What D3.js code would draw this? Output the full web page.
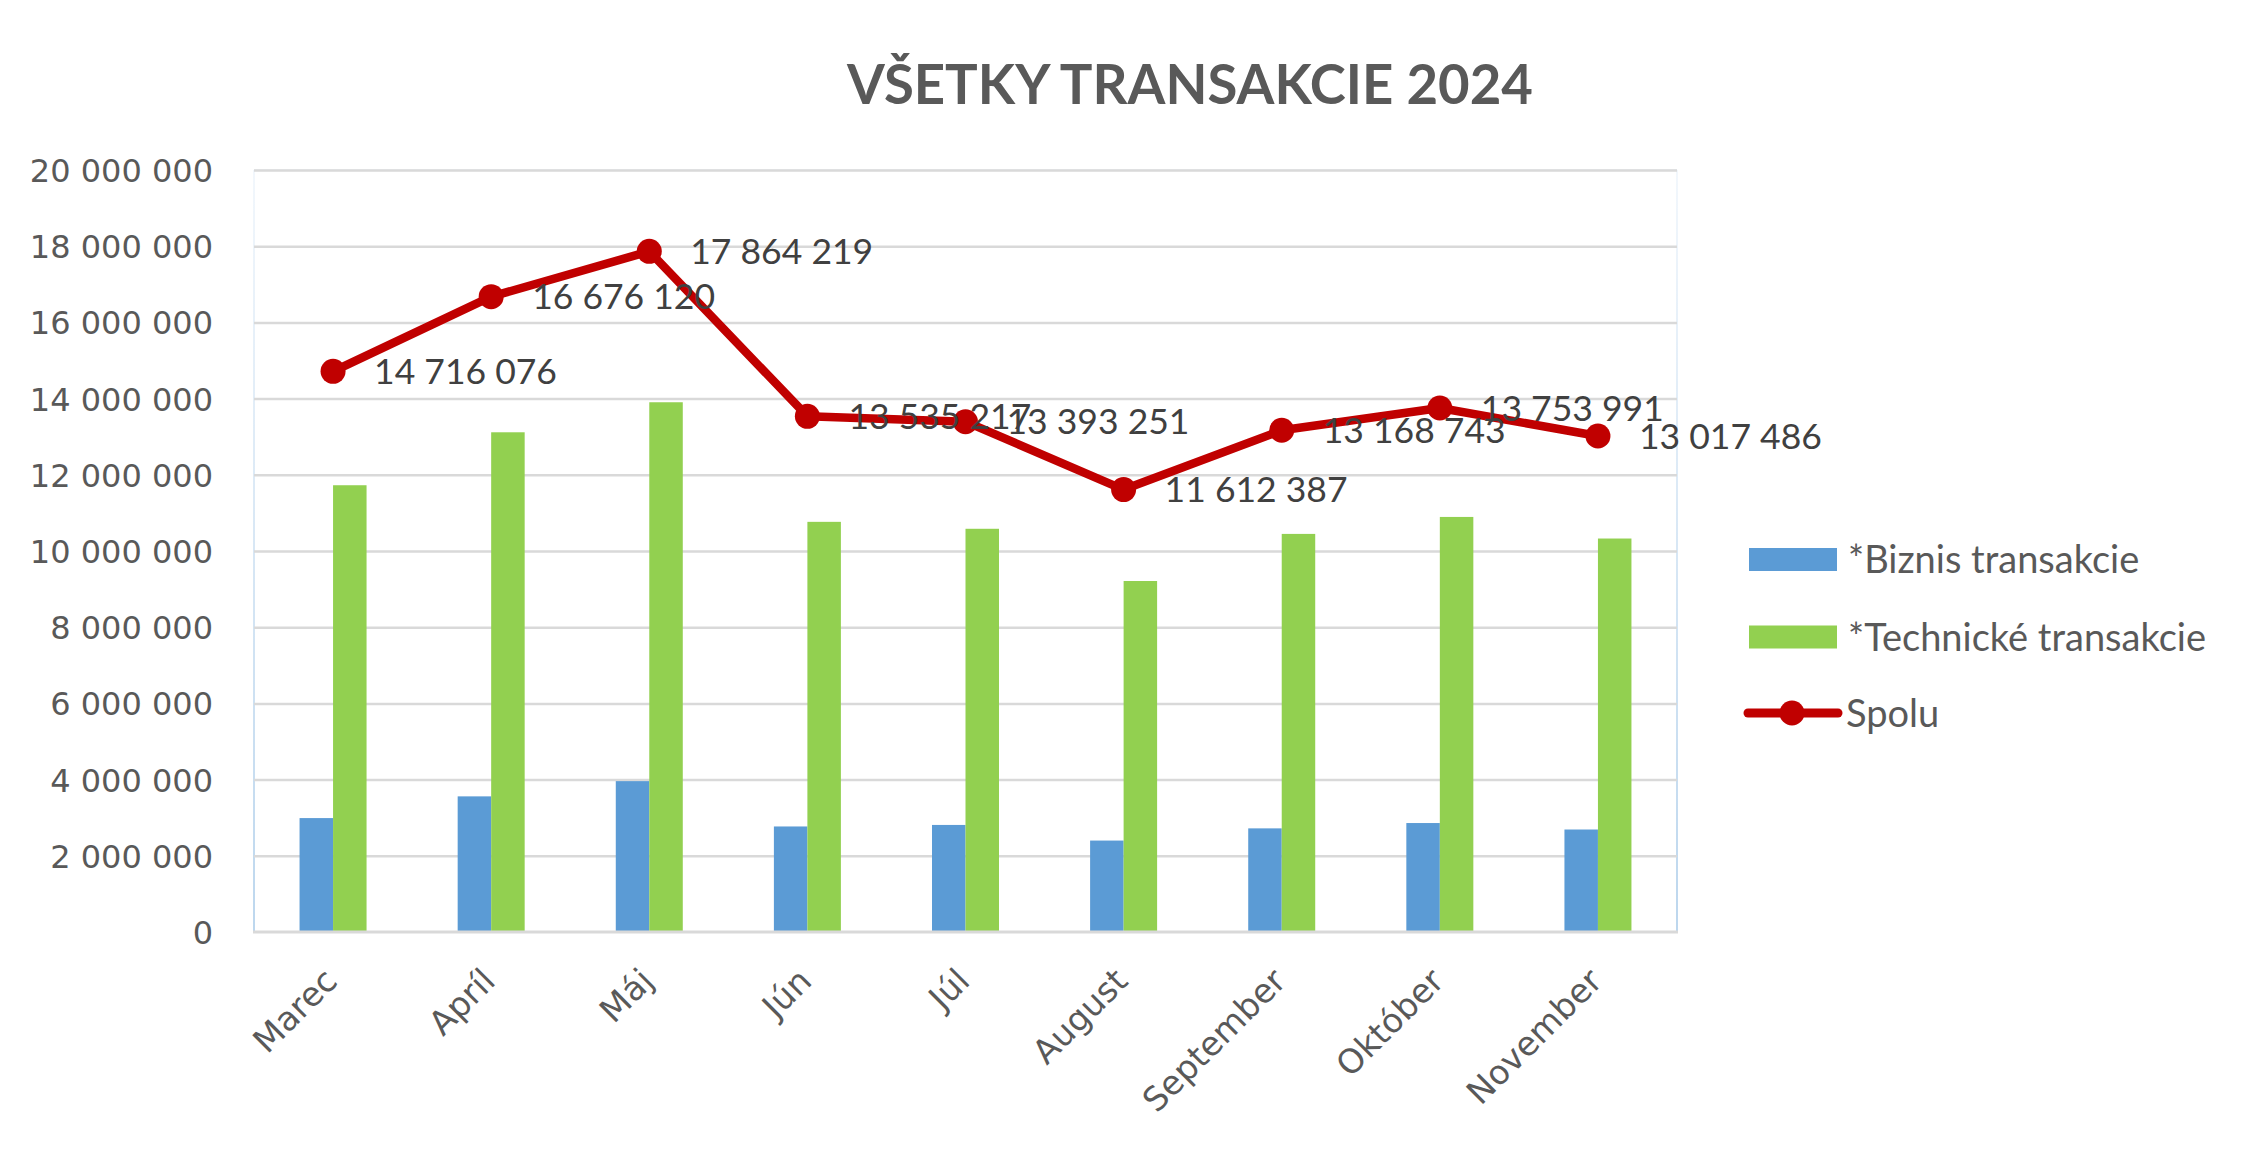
<!DOCTYPE html>
<html>
<head>
<meta charset="utf-8">
<script src="https://cdn.jsdelivr.net/npm/d3@7"></script>
<style>
  html, body { margin: 0; padding: 0; background: #fff; }
  svg { display: block; }
</style>
</head>
<body>
<svg id="chart" width="2261" height="1155"></svg>
<script>
// ---- data ----
const categories = ["Marec", "Apríl", "Máj", "Jún", "Júl", "August", "September", "Október", "November"];
const biznis     = [2990000, 3560000, 3960000, 2770000, 2810000, 2400000, 2720000, 2860000, 2690000];
const technicke  = [11726076, 13116120, 13904219, 10765217, 10583251, 9212387, 10448743, 10893991, 10327486];
const spolu      = [14716076, 16676120, 17864219, 13535217, 13393251, 11612387, 13168743, 13753991, 13017486];
const yTicks     = [0, 2000000, 4000000, 6000000, 8000000, 10000000, 12000000, 14000000, 16000000, 18000000, 20000000];
const seriesNames = ["*Biznis transakcie", "*Technické transakcie", "Spolu"];
const titleText = "VŠETKY TRANSAKCIE 2024";

// ---- layout ----
const W = 2261, H = 1155;
const plot = { left: 254, right: 1677, top: 170, bottom: 932 };
const colors = { biz: "#5B9BD5", tech: "#92D050", line: "#C00000" };

const svg = d3.select("#chart");
const fmt = d3.formatLocale({ decimal: ",", thousands: " ", grouping: [3], currency: ["", ""] }).format(",d");

const x = d3.scaleBand().domain(categories).range([plot.left, plot.right]).paddingInner(0).paddingOuter(0);
const barW = 33.5;
const y = d3.scaleLinear().domain([0, 20000000]).range([plot.bottom, plot.top]);

// gradient for plot side borders
const defs = svg.append("defs");
const grad = defs.append("linearGradient").attr("id", "sideGrad").attr("x1", 0).attr("y1", 0).attr("x2", 0).attr("y2", 1);
grad.append("stop").attr("offset", "0%").attr("stop-color", "#F2F7FC");
grad.append("stop").attr("offset", "100%").attr("stop-color", "#BDD7EE");

// plot area border
svg.append("line").attr("x1", plot.left).attr("x2", plot.right).attr("y1", plot.top).attr("y2", plot.top)
  .attr("stroke", "#F2F7FC").attr("stroke-width", 2);
svg.append("rect").attr("x", plot.left - 1).attr("y", plot.top).attr("width", 2).attr("height", plot.bottom - plot.top)
  .attr("fill", "url(#sideGrad)");
svg.append("rect").attr("x", plot.right - 1).attr("y", plot.top).attr("width", 2).attr("height", plot.bottom - plot.top)
  .attr("fill", "url(#sideGrad)");

// gridlines
const grid = svg.append("g").attr("transform", `translate(${plot.left},0)`)
  .call(d3.axisLeft(y).tickValues(yTicks.filter(v => v > 0)).tickSize(-(plot.right - plot.left)).tickFormat(""));
grid.select(".domain").remove();
grid.selectAll("line").attr("stroke", "#D9D9D9").attr("stroke-width", 2.5);

// y axis labels
const yAxis = svg.append("g").attr("transform", `translate(${plot.left},0)`)
  .call(d3.axisLeft(y).tickValues(yTicks).tickSize(0).tickPadding(41).tickFormat(fmt));
yAxis.select(".domain").remove();
yAxis.selectAll("text")
  .attr("font-family", "'DejaVu Sans', sans-serif").attr("font-size", 32).attr("fill", "#595959")
  .attr("dy", "0.36em");

// bars
const gBars = svg.append("g");
gBars.selectAll("rect.biz").data(categories).join("rect").attr("class", "biz")
  .attr("x", d => x(d) + x.bandwidth() / 2 - barW)
  .attr("width", barW)
  .attr("y", (d, i) => y(biznis[i]))
  .attr("height", (d, i) => y(0) - y(biznis[i]))
  .attr("fill", colors.biz);
gBars.selectAll("rect.tech").data(categories).join("rect").attr("class", "tech")
  .attr("x", d => x(d) + x.bandwidth() / 2)
  .attr("width", barW)
  .attr("y", (d, i) => y(technicke[i]))
  .attr("height", (d, i) => y(0) - y(technicke[i]))
  .attr("fill", colors.tech);

// x axis
const xAxis = svg.append("g").attr("transform", `translate(0,${plot.bottom})`)
  .call(d3.axisBottom(x).tickSize(0).tickPadding(0));
xAxis.select(".domain").attr("stroke", "#D9D9D9").attr("stroke-width", 3)
  .attr("d", `M${plot.left - 1},0H${plot.right + 1}`);
xAxis.selectAll("text")
  .attr("font-family", "'DejaVu Sans', sans-serif").attr("font-size", 33.5).attr("fill", "#595959")
  .attr("text-anchor", "end").attr("x", 0).attr("y", 0).attr("dy", 0)
  .attr("transform", "translate(6,51) rotate(-45)");

// line
const cx = (d, i) => x(categories[i]) + x.bandwidth() / 2;
const line = d3.line().x((d, i) => cx(d, i)).y(d => y(d));
svg.append("path").datum(spolu).attr("d", line)
  .attr("fill", "none").attr("stroke", colors.line).attr("stroke-width", 8.5)
  .attr("stroke-linejoin", "round").attr("stroke-linecap", "round");
svg.append("g").selectAll("circle").data(spolu).join("circle")
  .attr("cx", (d, i) => cx(d, i)).attr("cy", d => y(d)).attr("r", 12.5).attr("fill", colors.line);

// data labels
svg.append("g").selectAll("text").data(spolu).join("text")
  .attr("x", (d, i) => cx(d, i) + 41).attr("y", d => y(d)).attr("dy", "0.36em")
  .attr("font-family", "Lato, sans-serif").attr("font-size", 35.5).attr("fill", "#404040")
  .text(d => fmt(d));

// title
const title = svg.append("text").attr("x", 1190).attr("y", 104).attr("text-anchor", "middle")
  .attr("font-family", "Lato, sans-serif").attr("font-weight", "bold").attr("font-size", 56)
  .attr("fill", "#595959").text(titleText);
const tw = title.node().getComputedTextLength();
title.attr("font-size", 56 * 686 / tw);

// legend
const leg = svg.append("g");
const legY = [559.5, 637, 713];
leg.append("rect").attr("x", 1749).attr("y", legY[0] - 11.5).attr("width", 88).attr("height", 23).attr("fill", colors.biz);
leg.append("rect").attr("x", 1749).attr("y", legY[1] - 11.5).attr("width", 88).attr("height", 23).attr("fill", colors.tech);
leg.append("line").attr("x1", 1748).attr("x2", 1838).attr("y1", legY[2]).attr("y2", legY[2])
  .attr("stroke", colors.line).attr("stroke-width", 9).attr("stroke-linecap", "round");
leg.append("circle").attr("cx", 1792).attr("cy", legY[2]).attr("r", 12.5).attr("fill", colors.line);
leg.selectAll("text").data(seriesNames).join("text")
  .attr("x", (d, i) => i === 2 ? 1846 : 1848).attr("y", (d, i) => legY[i]).attr("dy", "0.36em")
  .attr("font-family", "Lato, sans-serif").attr("font-size", 38).attr("fill", "#595959")
  .text(d => d);
</script>
</body>
</html>
